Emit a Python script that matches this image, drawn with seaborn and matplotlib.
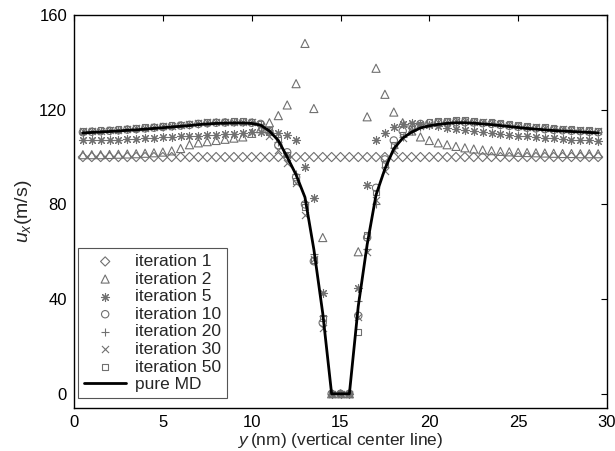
import matplotlib
matplotlib.use("Agg")
import matplotlib.pyplot as plt
import seaborn as sns
import pandas as pd

# position along the vertical center line (nm)
y_nm = [0.5, 1.0, 1.5, 2.0, 2.5, 3.0, 3.5, 4.0, 4.5, 5.0,
        5.5, 6.0, 6.5, 7.0, 7.5, 8.0, 8.5, 9.0, 9.5, 10.0,
        10.5, 11.0, 11.5, 12.0, 12.5, 13.0, 13.5, 14.0, 14.5, 15.0,
        15.5, 16.0, 16.5, 17.0, 17.5, 18.0, 18.5, 19.0, 19.5, 20.0,
        20.5, 21.0, 21.5, 22.0, 22.5, 23.0, 23.5, 24.0, 24.5, 25.0,
        25.5, 26.0, 26.5, 27.0, 27.5, 28.0, 28.5, 29.0, 29.5]

# u_x (m/s) for each iteration of the coupling scheme
iter_1 = [100.0, 100.0, 100.0, 100.0, 100.0, 100.0, 100.0, 100.0, 100.0, 100.0,
          100.0, 100.0, 100.0, 100.0, 100.0, 100.0, 100.0, 100.0, 100.0, 100.0,
          100.0, 100.0, 100.0, 100.0, 100.0, 100.0, 100.0, 100.0, 100.0, 100.0,
          100.0, 100.0, 100.0, 100.0, 100.0, 100.0, 100.0, 100.0, 100.0, 100.0,
          100.0, 100.0, 100.0, 100.0, 100.0, 100.0, 100.0, 100.0, 100.0, 100.0,
          100.0, 100.0, 100.0, 100.0, 100.0, 100.0, 100.0, 100.0, 100.0]

iter_2 = [101.0, 101.0, 101.0, 101.1, 101.2, 101.3, 101.4, 101.6, 101.8, 102.1,
          102.6, 103.6, 105.2, 106.0, 106.5, 107.0, 107.5, 108.0, 108.5, 110.0,
          112.0, 114.5, 117.5, 122.0, 131.0, 148.0, 120.5, 66.0, 0.0, 0.0,
          0.0, 60.0, 117.0, 137.5, 126.5, 119.0, 114.5, 111.0, 108.5, 107.0,
          106.0, 105.2, 104.5, 103.9, 103.4, 103.0, 102.7, 102.4, 102.2, 102.0,
          101.9, 101.8, 101.7, 101.6, 101.5, 101.5, 101.4, 101.4, 101.4]

iter_5 = [107.0, 107.1, 107.2, 107.3, 107.4, 107.5, 107.7, 107.9, 108.1, 108.3,
          108.5, 108.7, 108.9, 109.1, 109.3, 109.5, 109.7, 109.9, 110.2, 110.5,
          110.7, 110.6, 110.0, 109.3, 107.0, 96.0, 82.7, 42.6, 0.0, 0.0,
          0.0, 44.7, 88.0, 107.0, 110.3, 112.5, 113.8, 114.2, 114.0, 113.5,
          113.0, 112.4, 111.9, 111.5, 111.1, 110.7, 110.3, 109.9, 109.5, 109.1,
          108.8, 108.5, 108.2, 107.9, 107.6, 107.4, 107.2, 107.0, 106.8]

iter_10 = [110.5, 110.7, 110.9, 111.1, 111.3, 111.6, 111.8, 112.1, 112.4, 112.7,
           113.0, 113.3, 113.6, 114.0, 114.3, 114.5, 114.6, 114.7, 114.7, 114.5,
           114.0, 110.5, 105.0, 102.0, 91.5, 80.0, 56.0, 30.0, 0.0, 0.0,
           0.0, 33.0, 66.0, 87.0, 99.0, 107.0, 111.0, 113.0, 114.0, 114.3,
           114.5, 114.6, 114.7, 114.7, 114.6, 114.3, 114.0, 113.6, 113.2, 112.8,
           112.4, 112.1, 111.8, 111.5, 111.3, 111.1, 110.9, 110.7, 110.5]

iter_20 = [110.6, 110.8, 111.0, 111.2, 111.4, 111.7, 111.9, 112.2, 112.5, 112.8,
           113.1, 113.4, 113.7, 114.1, 114.4, 114.6, 114.7, 114.8, 114.8, 114.6,
           113.8, 111.5, 106.5, 100.5, 93.0, 81.0, 59.0, 33.0, 0.0, 0.0,
           0.0, 39.0, 61.0, 80.0, 96.0, 104.0, 108.5, 111.0, 112.8, 113.6,
           114.2, 114.6, 114.9, 114.9, 114.7, 114.4, 114.1, 113.7, 113.3, 112.9,
           112.5, 112.2, 111.9, 111.6, 111.4, 111.2, 111.0, 110.8, 110.6]

iter_30 = [110.8, 111.0, 111.2, 111.4, 111.6, 111.9, 112.1, 112.4, 112.7, 113.0,
           113.3, 113.6, 113.9, 114.3, 114.6, 114.8, 114.9, 115.0, 115.0, 114.8,
           113.0, 109.0, 103.0, 97.5, 89.0, 75.6, 57.0, 28.0, 0.0, 0.0,
           0.0, 32.6, 60.0, 82.0, 94.0, 103.0, 108.0, 111.0, 113.0, 114.0,
           114.6, 115.0, 115.2, 115.2, 115.0, 114.7, 114.4, 114.0, 113.6, 113.2,
           112.8, 112.5, 112.2, 111.9, 111.7, 111.5, 111.3, 111.1, 110.9]

iter_50 = [111.0, 111.2, 111.4, 111.6, 111.8, 112.1, 112.3, 112.6, 112.9, 113.2,
           113.5, 113.8, 114.1, 114.5, 114.8, 115.0, 115.1, 115.2, 115.2, 115.0,
           114.2, 111.5, 107.5, 101.0, 90.0, 79.0, 56.6, 32.0, 0.0, 0.0,
           0.0, 26.0, 67.0, 85.0, 97.0, 105.0, 109.5, 112.0, 113.8, 114.7,
           115.2, 115.5, 115.6, 115.6, 115.4, 115.1, 114.8, 114.4, 114.0, 113.6,
           113.2, 112.9, 112.6, 112.3, 112.1, 111.9, 111.7, 111.5, 111.3]

pure_md = [110.2, 110.4, 110.6, 110.8, 111.0, 111.3, 111.5, 111.8, 112.1, 112.4,
           112.7, 113.0, 113.3, 113.7, 114.0, 114.2, 114.3, 114.4, 114.4, 114.2,
           113.5, 111.0, 107.0, 100.0, 92.5, 83.0, 61.0, 34.0, 0.0, 0.0,
           0.0, 37.0, 63.0, 84.0, 95.0, 103.5, 108.0, 110.5, 112.3, 113.2,
           113.8, 114.2, 114.5, 114.5, 114.3, 114.0, 113.7, 113.3, 112.9, 112.5,
           112.1, 111.8, 111.5, 111.2, 111.0, 110.8, 110.6, 110.4, 110.2]

series_labels = ["iteration 1", "iteration 2", "iteration 5", "iteration 10",
                 "iteration 20", "iteration 30", "iteration 50"]
series_values = [iter_1, iter_2, iter_5, iter_10, iter_20, iter_30, iter_50]

x_ticks = [0, 5, 10, 15, 20, 25, 30]
y_ticks = [0, 40, 80, 120, 160]

sns.set_style("white")
plt.rcParams["font.family"] = ["Liberation Sans", "DejaVu Sans"]
plt.rcParams["mathtext.fontset"] = "custom"
plt.rcParams["mathtext.rm"] = "Liberation Sans"
plt.rcParams["mathtext.it"] = "Liberation Sans:italic"

# asterisk marker: a "+" and an "x" overlaid
asterisk = (8, 2, 0)

styles = {
    "iteration 1": dict(marker="D", s=22, facecolors="none", linewidths=0.8),
    "iteration 2": dict(marker="^", s=34, facecolors="none", linewidths=0.8),
    "iteration 5": dict(marker=asterisk, s=34, linewidths=0.8),
    "iteration 10": dict(marker="o", s=28, facecolors="none", linewidths=0.8),
    "iteration 20": dict(marker="+", s=34, linewidths=0.8),
    "iteration 30": dict(marker="x", s=26, linewidths=0.8),
    "iteration 50": dict(marker="s", s=16, facecolors="none", linewidths=0.8),
}
marker_color = "#707070"

fig = plt.figure(figsize=(6.15, 4.51), dpi=100)
ax = fig.add_axes([74 / 615, 1 - 408 / 451, (607 - 74) / 615, (408 - 15) / 451])

for label, values in zip(series_labels, series_values):
    df = pd.DataFrame({"y": y_nm, "ux": values})
    kw = styles[label]
    if kw.get("facecolors") == "none":
        sns.scatterplot(data=df, x="y", y="ux", ax=ax, label=label,
                        edgecolor=marker_color, **kw)
    else:
        sns.scatterplot(data=df, x="y", y="ux", ax=ax, label=label,
                        color=marker_color, **kw)

md_df = pd.DataFrame({"y": y_nm, "ux": pure_md})
sns.lineplot(data=md_df, x="y", y="ux", ax=ax, color="black", linewidth=2.0,
             label="pure MD")

ax.set_xlim(0, 30)
ax.set_ylim(-6, 160)
ax.set_xticks(x_ticks)
ax.set_yticks(y_ticks)
ax.tick_params(direction="in", top=True, right=True, length=4, width=0.8,
               labelsize=12, colors="black", pad=5)
for sp in ax.spines.values():
    sp.set_color("black")
    sp.set_linewidth(1.0)

ax.set_xlabel(r"$y\,$(nm) (vertical center line)", fontsize=12.5, labelpad=1)
ax.set_ylabel(r"$u_x$(m/s)", fontsize=14, labelpad=4)

leg = ax.legend(loc="lower left", bbox_to_anchor=(0.008, 0.025),
                borderaxespad=0, fontsize=12.5, frameon=True, fancybox=False,
                edgecolor="#555555", framealpha=1, handlelength=2.4,
                handletextpad=0.5, labelspacing=0.14, borderpad=0.35)
leg.get_frame().set_linewidth(0.8)

fig.savefig("out.png", dpi=100)
